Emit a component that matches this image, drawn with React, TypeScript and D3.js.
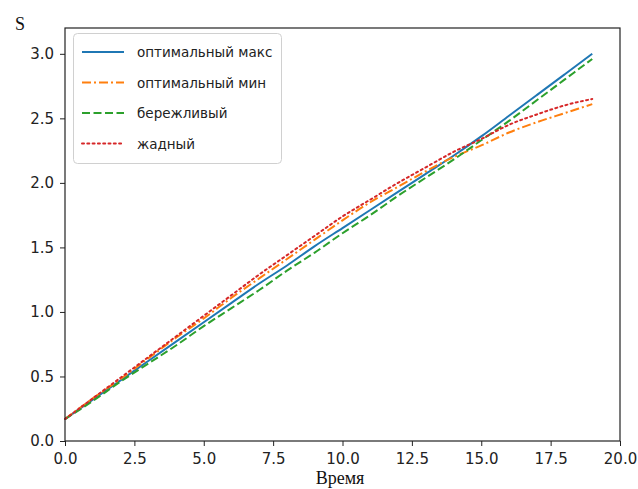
import * as d3 from "d3";
import { useEffect, useRef } from "react";

const times = [0, 1, 2, 3, 4, 5, 6, 7, 8, 9, 10, 11, 12, 13, 14, 15, 16, 17, 18, 19];
const optMax = [0.17, 0.32, 0.47, 0.62, 0.77, 0.92, 1.07, 1.22, 1.36, 1.51, 1.65, 1.79, 1.93, 2.07, 2.21, 2.36, 2.52, 2.68, 2.84, 3.0];
const optMin = [0.17, 0.33, 0.48, 0.64, 0.8, 0.95, 1.11, 1.26, 1.41, 1.56, 1.71, 1.85, 1.97, 2.09, 2.2, 2.29, 2.39, 2.47, 2.54, 2.61];
const thrifty = [0.17, 0.31, 0.46, 0.6, 0.74, 0.89, 1.03, 1.17, 1.32, 1.46, 1.61, 1.75, 1.9, 2.04, 2.18, 2.33, 2.48, 2.64, 2.8, 2.96];
const greedy = [0.17, 0.33, 0.49, 0.65, 0.81, 0.97, 1.13, 1.29, 1.44, 1.59, 1.74, 1.87, 2.0, 2.12, 2.24, 2.34, 2.45, 2.53, 2.6, 2.65];

const xTicks = [0, 2.5, 5, 7.5, 10, 12.5, 15, 17.5, 20];
const yTicks = [0, 0.5, 1, 1.5, 2, 2.5, 3];

const series = [
  { name: "оптимальный макс", values: optMax, color: "#1f77b4", dash: "none" },
  { name: "оптимальный мин", values: optMin, color: "#ff7f0e", dash: "9,3,2,3" },
  { name: "бережливый", values: thrifty, color: "#2ca02c", dash: "8,3.5" },
  { name: "жадный", values: greedy, color: "#d62728", dash: "2,3.3" },
];

export default function App() {
  const ref = useRef<SVGSVGElement>(null);

  useEffect(() => {
    if (!ref.current) return;
    const svg = d3.select(ref.current);
    svg.selectAll("*").remove();

    const width = 638,
      height = 489,
      margin = { top: 28, right: 18, bottom: 48, left: 65 };

    const x = d3.scaleLinear().domain([0, 20]).range([margin.left, width - margin.right]);
    const y = d3.scaleLinear().domain([0, 3.2]).range([height - margin.bottom, margin.top]);

    svg.append("rect").attr("width", width).attr("height", height).attr("fill", "#fff");

    // lines
    series.forEach((s) => {
      const line = d3
        .line<number>()
        .x((_, i) => x(times[i]))
        .y((d) => y(d))
        .curve(d3.curveMonotoneX);
      svg
        .append("path")
        .datum(s.values)
        .attr("fill", "none")
        .attr("stroke", s.color)
        .attr("stroke-width", 2)
        .attr("stroke-dasharray", s.dash)
        .attr("stroke-linecap", s.dash === "2,3.3" ? "round" : "butt")
        .attr("d", line);
    });

    // axes
    const xAxis = svg
      .append("g")
      .attr("transform", `translate(0, ${height - margin.bottom})`)
      .call(d3.axisBottom(x).tickValues(xTicks).tickFormat(d3.format(".1f")).tickSize(5).tickPadding(4).tickSizeOuter(0));
    const yAxis = svg
      .append("g")
      .attr("transform", `translate(${margin.left}, 0)`)
      .call(d3.axisLeft(y).tickValues(yTicks).tickFormat(d3.format(".1f")).tickSize(5).tickPadding(6).tickSizeOuter(0));
    [xAxis, yAxis].forEach((g) => {
      g.select(".domain").remove();
      g.selectAll("line").attr("stroke", "#222").attr("stroke-width", 1);
      g.selectAll("text")
        .attr("fill", "#222")
        .attr("font-family", "DejaVu Sans")
        .attr("font-size", "15px");
    });
    xAxis.selectAll("text").attr("dy", "0.9em");

    // frame
    svg
      .append("rect")
      .attr("x", margin.left)
      .attr("y", margin.top)
      .attr("width", width - margin.left - margin.right)
      .attr("height", height - margin.top - margin.bottom)
      .attr("fill", "none")
      .attr("stroke", "#222")
      .attr("stroke-width", 1.2);

    // legend
    const lg = svg.append("g");
    lg.append("rect")
      .attr("x", 73.5)
      .attr("y", 33.5)
      .attr("width", 208)
      .attr("height", 130)
      .attr("rx", 4)
      .attr("fill", "#fff")
      .attr("fill-opacity", 0.8)
      .attr("stroke", "#d0d0d0");
    series.forEach((s, i) => {
      const cy = 52 + i * 30.5;
      lg.append("line")
        .attr("x1", 82)
        .attr("x2", 124)
        .attr("y1", cy)
        .attr("y2", cy)
        .attr("stroke", s.color)
        .attr("stroke-width", 2)
        .attr("stroke-dasharray", s.dash)
        .attr("stroke-linecap", s.dash === "2,3.3" ? "round" : "butt");
      lg.append("text")
        .attr("x", 137)
        .attr("y", cy + 5)
        .attr("font-family", "DejaVu Sans")
        .attr("font-size", "13.5px")
        .attr("fill", "#222")
        .text(s.name);
    });

    // axis labels
    svg.append("text")
      .attr("x", 20)
      .attr("y", 30)
      .attr("text-anchor", "middle")
      .attr("font-family", "Liberation Serif")
      .attr("font-size", "18px")
      .attr("fill", "#111")
      .text("S");
    svg.append("text")
      .attr("x", 340)
      .attr("y", 484)
      .attr("text-anchor", "middle")
      .attr("font-family", "Liberation Serif")
      .attr("font-size", "18px")
      .attr("fill", "#111")
      .text("Время");
  }, []);

  return (
    <svg
      ref={ref}
      width={638}
      height={489}
      style={{ position: "absolute", left: 0, top: 0, display: "block" }}
    />
  );
}
